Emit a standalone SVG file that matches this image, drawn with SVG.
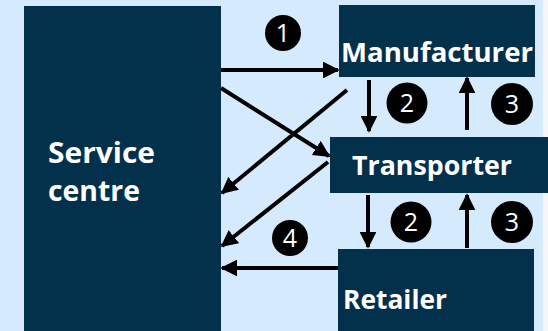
<svg xmlns="http://www.w3.org/2000/svg" width="548" height="331" viewBox="0 0 548 331">
<defs>
<style>
.box{fill:#03304b}
.lbl{fill:#ffffff;font-family:"Open Sans","Noto Sans","Liberation Sans",sans-serif;font-weight:bold}
.num{fill:#ffffff;font-family:"Open Sans","Noto Sans","Liberation Sans",sans-serif;font-size:25px;text-anchor:middle}
.badge{fill:#000000}
.conn{stroke:#000000;stroke-width:4;fill:none;marker-end:url(#ah)}
</style>
<marker id="ah" viewBox="0 0 10 10" refX="9" refY="5" markerWidth="4.2" markerHeight="4.2" orient="auto" markerUnits="strokeWidth">
<path d="M0,0 L10,5 L0,10 z" fill="#000000"/>
</marker>
</defs>
<rect x="0" y="0" width="548" height="331" fill="#d5ebfd"/>
<rect x="543" y="0" width="5" height="331" fill="#f6f6f6"/>
<g id="service-centre">
<rect class="box" x="24" y="6" width="197" height="325"/>
<text class="lbl" x="48" y="163" font-size="29" textLength="107" lengthAdjust="spacingAndGlyphs">Service</text>
<text class="lbl" x="48" y="201" font-size="29" textLength="92" lengthAdjust="spacingAndGlyphs">centre</text>
</g>
<g id="manufacturer">
<rect class="box" x="339" y="5" width="196" height="72"/>
<text class="lbl" x="341" y="62" font-size="26" textLength="192" lengthAdjust="spacingAndGlyphs">Manufacturer</text>
</g>
<g id="transporter">
<rect class="box" x="330" y="137" width="218" height="56"/>
<text class="lbl" x="352" y="175" font-size="27" textLength="160" lengthAdjust="spacingAndGlyphs">Transporter</text>
</g>
<g id="retailer">
<rect class="box" x="338" y="249" width="196" height="82"/>
<text class="lbl" x="343" y="309" font-size="27" textLength="104" lengthAdjust="spacingAndGlyphs">Retailer</text>
</g>
<g id="connectors">
<line class="conn" x1="221" y1="70" x2="338" y2="70"/>
<line class="conn" x1="221" y1="88" x2="329" y2="156"/>
<line class="conn" x1="347" y1="90" x2="222" y2="193"/>
<line class="conn" x1="328" y1="162" x2="222" y2="246"/>
<line class="conn" x1="338" y1="268" x2="222" y2="268"/>
<line class="conn" x1="369" y1="80" x2="369" y2="131"/>
<line class="conn" x1="467" y1="130" x2="467" y2="78"/>
<line class="conn" x1="368" y1="195" x2="368" y2="247"/>
<line class="conn" x1="467" y1="248" x2="467" y2="195"/>
</g>
<g id="badges">
<circle class="badge" cx="283" cy="33" r="18"/>
<text class="num" x="283" y="42">1</text>
<circle class="badge" cx="407" cy="103" r="20.5"/>
<text class="num" x="407" y="112">2</text>
<circle class="badge" cx="512" cy="104" r="21"/>
<text class="num" x="512" y="113">3</text>
<circle class="badge" cx="411" cy="222" r="20.5"/>
<text class="num" x="411" y="231">2</text>
<circle class="badge" cx="512" cy="222" r="21"/>
<text class="num" x="512" y="231">3</text>
<circle class="badge" cx="290" cy="238" r="18"/>
<text class="num" x="290" y="247">4</text>
</g>
</svg>
